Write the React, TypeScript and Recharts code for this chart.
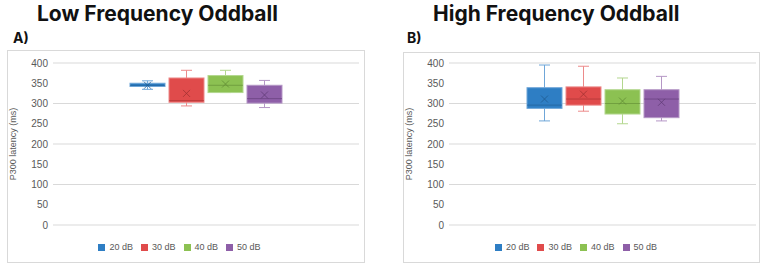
import React from "react"
import { BarChart, Bar, YAxis, XAxis, CartesianGrid, Legend } from "recharts"

// Series (sound level) names
const levels = ["20 dB", "30 dB", "40 dB", "50 dB"]
const yTicks = [0, 50, 100, 150, 200, 250, 300, 350, 400]

// Low frequency oddball: P300 latency summary (ms)
const lowMin = [335, 294, 327, 290]
const lowQ1 = [342, 303, 327, 301]
const lowMedian = [345, 307, 345, 312]
const lowQ3 = [350, 363, 369, 345]
const lowMax = [356, 382, 382, 357]
const lowMean = [345, 325, 348, 321]

// High frequency oddball: P300 latency summary (ms)
const highMin = [257, 281, 250, 257]
const highQ1 = [288, 296, 274, 265]
const highMedian = [296, 311, 300, 311]
const highQ3 = [339, 341, 334, 334]
const highMax = [395, 392, 363, 367]
const highMean = [311, 323, 306, 303]

const fills = ["#2E7EC4", "#E04B4B", "#8CC152", "#8E5FA8"]
const edges = ["#6FA6D8", "#EC8A8A", "#B3D78E", "#B597C6"]
const marks = ["#1F5A8E", "#9E3030", "#5F8A33", "#5E3A74"]

const textColor = "#595959"
const font = "'Liberation Sans', Arial, sans-serif"

type Stats = { min: number[]; q1: number[]; median: number[]; q3: number[]; max: number[]; mean: number[] }

// box + whiskers drawn around the q1..q3 range bar
const makeBox = (s: Stats, i: number) => (props: any) => {
  const { x, y, width, height } = props
  const top = Math.min(y, y + height)
  const h = Math.abs(height)
  const q1 = s.q1[i]
  const q3 = s.q3[i]
  const ppu = h / (q3 - q1 || 1)
  const yOf = (v: number) => top + (q3 - v) * ppu
  const cx = x + width / 2
  const cap = 5.5
  const yMax = yOf(s.max[i])
  const yMin = yOf(s.min[i])
  const yMed = yOf(s.median[i])
  const yMean = yOf(s.mean[i])
  const m = 3.5
  return (
    <g>
      <line x1={cx} x2={cx} y1={yMax} y2={top} stroke={edges[i]} strokeWidth={1} />
      <line x1={cx - cap} x2={cx + cap} y1={yMax} y2={yMax} stroke={edges[i]} strokeWidth={1} />
      <line x1={cx} x2={cx} y1={top + h} y2={yMin} stroke={edges[i]} strokeWidth={1} />
      <line x1={cx - cap} x2={cx + cap} y1={yMin} y2={yMin} stroke={edges[i]} strokeWidth={1} />
      <rect x={x} y={top} width={width} height={Math.max(h, 1)} fill={fills[i]} stroke={edges[i]} strokeWidth={1} />
      <line x1={x} x2={x + width} y1={yMed} y2={yMed} stroke={marks[i]} strokeOpacity={0.6} strokeWidth={1} />
      <line x1={cx - m} x2={cx + m} y1={yMean - m} y2={yMean + m} stroke={marks[i]} strokeOpacity={0.75} strokeWidth={1} />
      <line x1={cx - m} x2={cx + m} y1={yMean + m} y2={yMean - m} stroke={marks[i]} strokeOpacity={0.75} strokeWidth={1} />
    </g>
  )
}

const YLabel = ({ viewBox }: any) => {
  const cy = viewBox.y + viewBox.height / 2
  const lx = viewBox.x + 8
  return (
    <text x={lx} y={cy} transform={`rotate(-90, ${lx}, ${cy})`} textAnchor="middle" fill={textColor} fontSize={9} fontFamily={font}>
      P300 latency (ms)
    </text>
  )
}

function BoxPanel({ stats, width, height, margin }: { stats: Stats; width: number; height: number; margin: any }) {
  const row: any = { name: "" }
  levels.forEach((_, i) => {
    row["s" + i] = [stats.q1[i], stats.q3[i]]
  })
  return (
    <BarChart width={width} height={height} data={[row]} margin={margin} barSize={35} barGap={4}>
      <CartesianGrid vertical={false} stroke="#D9D9D9" />
      <XAxis dataKey="name" hide />
      <YAxis
        domain={[0, 400]}
        ticks={yTicks}
        axisLine={false}
        tickLine={false}
        tickSize={0}
        tickMargin={5}
        width={45}
        tick={{ fill: textColor, fontSize: 10, fontFamily: font }}
        label={<YLabel />}
      />
      {levels.map((name, i) => (
        <Bar key={name} dataKey={"s" + i} name={name} fill={fills[i]} shape={makeBox(stats, i)} isAnimationActive={false} />
      ))}
      <Legend
        verticalAlign="bottom"
        iconType="square"
        iconSize={7}
        wrapperStyle={{ paddingTop: 17, fontSize: 9, fontFamily: font }}
        formatter={(v: string) => <span style={{ color: textColor }}>{v}</span>}
      />
    </BarChart>
  )
}

const lowStats: Stats = { min: lowMin, q1: lowQ1, median: lowMedian, q3: lowQ3, max: lowMax, mean: lowMean }
const highStats: Stats = { min: highMin, q1: highQ1, median: highMedian, q3: highQ3, max: highMax, mean: highMean }

const titleStyle: React.CSSProperties = {
  position: "absolute",
  fontFamily: "Inter, 'Open Sans', sans-serif",
  fontWeight: 700,
  fontSize: 21,
  lineHeight: "24px",
  color: "#111",
  whiteSpace: "nowrap",
}
const tagStyle: React.CSSProperties = { ...titleStyle, fontSize: 14, lineHeight: "16px" }
const panelStyle: React.CSSProperties = { position: "absolute", border: "1px solid #D9D9D9", background: "#fff" }

export default function App() {
  return (
    <div style={{ position: "absolute", left: 0, top: 0, width: 765, height: 274, background: "#fff", overflow: "hidden" }}>
      <style>{".recharts-legend-item { margin-right: 8px !important; }"}</style>
      <div style={{ ...titleStyle, left: 37, top: 2 }}>Low Frequency Oddball</div>
      <div style={{ ...tagStyle, left: 13, top: 30 }}>A)</div>
      <div style={{ ...panelStyle, left: 7, top: 50, width: 356, height: 211 }}>
        <BoxPanel stats={lowStats} width={356} height={211} margin={{ top: 12, right: 5, bottom: 10, left: 0 }} />
      </div>

      <div style={{ ...titleStyle, left: 433, top: 2 }}>High Frequency Oddball</div>
      <div style={{ ...tagStyle, left: 407, top: 30 }}>B)</div>
      <div style={{ ...panelStyle, left: 403, top: 52, width: 355, height: 209 }}>
        <BoxPanel stats={highStats} width={355} height={209} margin={{ top: 10, right: 3, bottom: 10, left: 0 }} />
      </div>
    </div>
  )
}
